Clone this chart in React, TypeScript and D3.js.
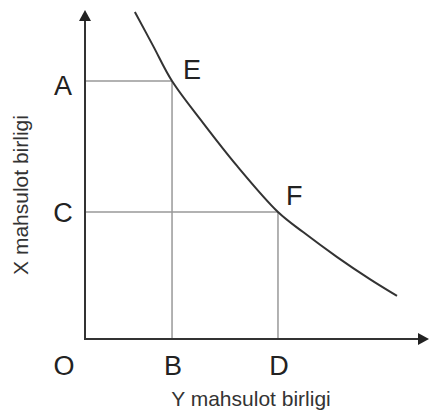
import * as d3 from 'd3';

// Indifference curve (Y units across, X units up)
const curveYUnits = [1.45, 1.98, 2.53, 3.43, 4.42, 5.61, 6.34, 7.33, 8.28, 9.07];
const curveXUnits = [9.94, 8.91, 7.84, 6.57, 5.26, 3.86, 3.25, 2.49, 1.82, 1.31];

// marked points on the curve
const pointNames = ['E', 'F'];
const pointIndex = [2, 5];
const yAxisLabels = ['A', 'C'];
const xAxisLabels = ['B', 'D'];
const originLabel = 'O';

const xTitle = 'Y mahsulot birligi';
const yTitle = 'X mahsulot birligi';

const W = 429;
const H = 414;
const font = '"Liberation Sans", Arial, sans-serif';

export default function App() {
  const x = d3.scaleLinear().domain([0, 10]).range([85, 429]);
  const y = d3.scaleLinear().domain([0, 10]).range([339, 10]);

  const pts = curveYUnits.map((v, i) => [v, curveXUnits[i]] as [number, number]);
  const line = d3
    .line<[number, number]>()
    .x((d) => x(d[0]))
    .y((d) => y(d[1]))
    .curve(d3.curveCatmullRom.alpha(0.5));

  const x0 = x(0);
  const y0 = y(0);
  const xEnd = x.range()[1];
  const yEnd = y.range()[1];

  const marks = pointIndex.map((idx) => pts[idx]);

  return (
    <div style={{ position: 'absolute', left: 0, top: 0 }}>
      <svg width={W} height={H} style={{ display: 'block', background: '#fff' }}>
        {/* guide lines to the axes */}
        {marks.map((p, i) => (
          <g key={'g' + i} stroke="#999" strokeWidth={1.5} fill="none">
            <line x1={x0} x2={x(p[0])} y1={y(p[1])} y2={y(p[1])} />
            <line x1={x(p[0])} x2={x(p[0])} y1={y0} y2={y(p[1])} />
          </g>
        ))}

        {/* axes with arrows */}
        <line x1={x0} x2={x0} y1={y0} y2={yEnd + 8} stroke="#333" strokeWidth={2} />
        <path
          d={`M${x0},${yEnd} L${x0 - 6},${yEnd + 11} L${x0 + 6},${yEnd + 11} Z`}
          fill="#222"
        />
        <line x1={x0 - 1} x2={xEnd - 8} y1={y0} y2={y0} stroke="#333" strokeWidth={2} />
        <path
          d={`M${xEnd},${y0} L${xEnd - 11},${y0 - 6} L${xEnd - 11},${y0 + 6} Z`}
          fill="#222"
        />

        {/* curve */}
        <path d={line(pts) ?? ''} fill="none" stroke="#333" strokeWidth={2} />

        {/* labels */}
        <g fontFamily={font} fontSize={27} fill="#222">
          {marks.map((p, i) => (
            <text
              key={'p' + i}
              x={x(p[0]) + (i === 0 ? 11 : 8)}
              y={y(p[1]) + (i === 0 ? -2 : -7)}
            >
              {pointNames[i]}
            </text>
          ))}
          {marks.map((p, i) => (
            <text key={'a' + i} x={63} y={y(p[1]) + (i === 0 ? 14 : 10)} textAnchor="middle">
              {yAxisLabels[i]}
            </text>
          ))}
          {marks.map((p, i) => (
            <text key={'b' + i} x={x(p[0]) + 1} y={375} textAnchor="middle">
              {xAxisLabels[i]}
            </text>
          ))}
          <text x={64} y={375} textAnchor="middle">
            {originLabel}
          </text>
        </g>

        {/* axis titles */}
        <g fontFamily={font} fontSize={21} fill="#333">
          <text x={251} y={406} textAnchor="middle">
            {xTitle}
          </text>
          <text transform="translate(28,195) rotate(-90)" textAnchor="middle">
            {yTitle}
          </text>
        </g>
      </svg>
    </div>
  );
}
